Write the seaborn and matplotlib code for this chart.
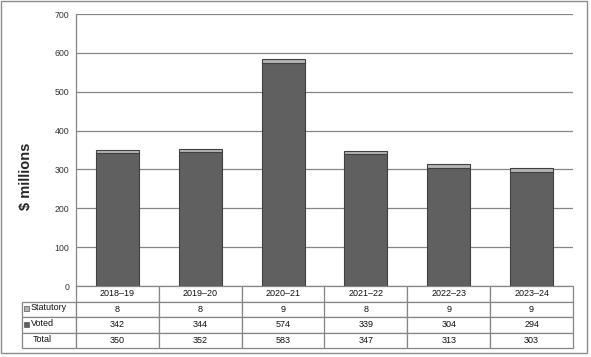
import matplotlib
matplotlib.use("Agg")
import matplotlib.pyplot as plt
import seaborn as sns
import numpy as np
from matplotlib.table import Table
from matplotlib.patches import Rectangle

years = ["2018\u201319", "2019\u201320", "2020\u201321", "2021\u201322", "2022\u201323", "2023\u201324"]
voted = [342, 344, 574, 339, 304, 294]
statutory = [8, 8, 9, 8, 9, 9]
total = [350, 352, 583, 347, 313, 303]
yticks = [0, 100, 200, 300, 400, 500, 600, 700]

voted_color = "#606060"
stat_color = "#b4b4b4"
edge_color = "#404040"
grid_color = "#868686"

sns.set_style("white")
plt.rcParams["font.family"] = ["Liberation Sans", "DejaVu Sans"]

W, H = 591, 357
fig = plt.figure(figsize=(W / 100, H / 100), dpi=100)
# plot area in pixels: x 76..573, y 14..286
ax = fig.add_axes([76 / W, 1 - 286 / H, (573 - 76) / W, (286 - 14) / H])

sns.barplot(x=years, y=voted, color=voted_color, width=0.52, edgecolor=edge_color,
            linewidth=0.8, saturation=1, ax=ax, zorder=3)
sns.barplot(x=years, y=statutory, bottom=voted, color=stat_color, width=0.52,
            edgecolor=edge_color, linewidth=0.8, saturation=1, ax=ax, zorder=3)

ax.set_ylim(0, 700)
ax.set_xlim(-0.5, 5.5)
ax.set_yticks(yticks)
ax.set_yticklabels([str(v) for v in yticks], fontsize=6.3, color="#333333")
ax.tick_params(axis="y", length=0, pad=5)
ax.set_xticks([])
ax.set_xlabel("")
ax.yaxis.grid(True, color=grid_color, linewidth=0.9, zorder=0)
ax.set_axisbelow(True)
for side in ["top", "right", "bottom"]:
    ax.spines[side].set_visible(False)
ax.spines["left"].set_color(grid_color)
ax.spines["left"].set_linewidth(0.9)

ax.set_ylabel("$ millions", fontsize=10.5, fontweight="bold")
ax.yaxis.set_label_coords((33 - 76) / 497, 0.404)

# data table under the plot
x0 = (22 - 76) / 497
tw = (573 - 22) / 497
th = (347 - 285) / 272
tb = Table(ax, bbox=[x0, -th, tw, th])
label_w = 54
col_w = 497 / 6
rows = [["", *years],
        ["Statutory", *[str(v) for v in statutory]],
        ["Voted", *[str(v) for v in voted]],
        ["Total", *[str(v) for v in total]]]
for r, row in enumerate(rows):
    for c, txt in enumerate(row):
        if r == 0 and c == 0:
            continue
        w = label_w if c == 0 else col_w
        cell = tb.add_cell(r, c, w, 1, text="" if c == 0 else txt, loc="center",
                           edgecolor=grid_color, facecolor="white")
        cell.set_linewidth(0.9)
        cell.get_text().set_fontsize(6.5)
        cell.get_text().set_color("#111111")
tb.auto_set_font_size(False)
ax.add_table(tb)

# row labels with legend squares
row_y = [(286 - 308) / 272, (286 - 324) / 272, (286 - 339.5) / 272]
sq_w, sq_h = 5 / 497, 5 / 272
for yy, col in [(row_y[0], stat_color), (row_y[1], voted_color)]:
    ax.add_patch(Rectangle(((24 - 76) / 497, yy - sq_h / 2), sq_w, sq_h, transform=ax.transAxes,
                           facecolor=col, edgecolor="#555555", linewidth=0.5, clip_on=False))
ax.text((31 - 76) / 497, row_y[0], "Statutory", fontsize=6.5, va="center", ha="left",
        transform=ax.transAxes, color="#111111")
ax.text((31 - 76) / 497, row_y[1], "Voted", fontsize=6.5, va="center", ha="left",
        transform=ax.transAxes, color="#111111")
ax.text((33 - 76) / 497, row_y[2], "Total", fontsize=6.5, va="center", ha="left",
        transform=ax.transAxes, color="#111111")

# outer border
fig.patches.append(Rectangle((0.5 / W, 1 - 353 / H), 586 / W, 352.5 / H, transform=fig.transFigure,
                             fill=False, edgecolor="#8c8c8c", linewidth=1))

fig.savefig("out.png", dpi=100)
